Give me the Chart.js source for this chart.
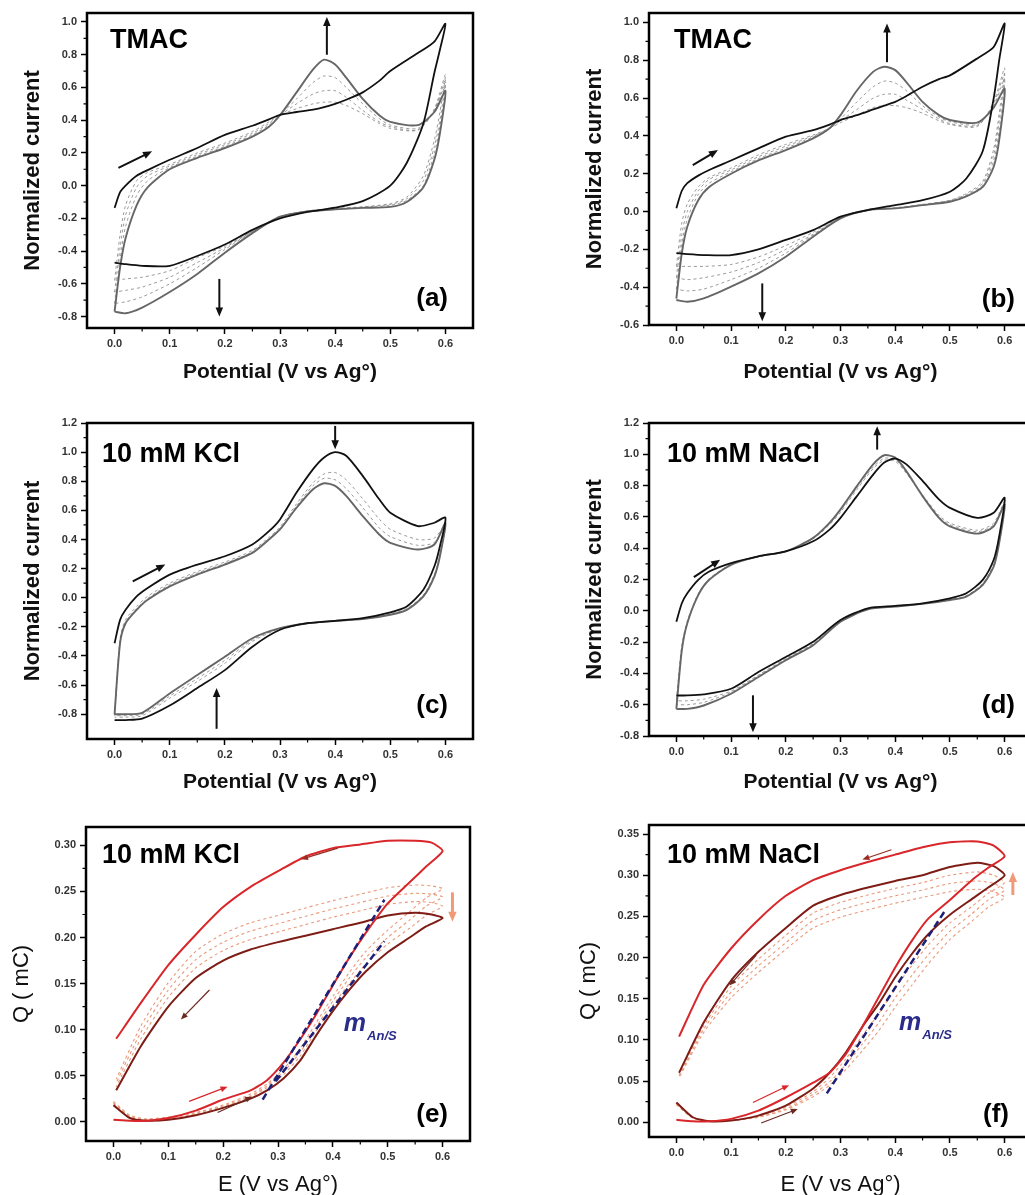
<!DOCTYPE html>
<html>
<head>
<meta charset="utf-8">
<script src="https://cdn.jsdelivr.net/npm/chart.js@4.4.1/dist/chart.umd.min.js"></script>
<style>
  html, body { margin: 0; padding: 0; background: #fff; overflow: hidden; width: 1025px; height: 1195px; }
  canvas { position: absolute; }
</style>
</head>
<body>
<canvas id="pa"></canvas>
<canvas id="pb"></canvas>
<canvas id="pc"></canvas>
<canvas id="pd"></canvas>
<canvas id="pe"></canvas>
<canvas id="pf"></canvas>
<script>
// potential grids for the CV panels (forward scan, then back)
const E_fwd = [0, 0.01, 0.02, 0.04, 0.06, 0.1, 0.15, 0.2, 0.25, 0.28, 0.3, 0.33, 0.36, 0.38, 0.4, 0.42, 0.45, 0.48, 0.5, 0.55, 0.58, 0.6];
const E_rev = [0.59, 0.58, 0.56, 0.53, 0.5, 0.45, 0.4, 0.35, 0.3, 0.25, 0.2, 0.15, 0.1, 0.05, 0.02, 0];

// potential grids for the charge panels
const Q_fwdE = [0, 0.03, 0.06, 0.1, 0.15, 0.2, 0.25, 0.28, 0.31, 0.34, 0.37, 0.4, 0.43, 0.46, 0.5, 0.54, 0.57, 0.6];
const Q_revE = [0.58, 0.55, 0.5, 0.45, 0.4, 0.35, 0.3, 0.25, 0.2, 0.15, 0.1, 0.05, 0.005];

// tick labels
const xMajor = [0, 0.1, 0.2, 0.3, 0.4, 0.5, 0.6];
const yMajorA = [-0.8, -0.6, -0.4, -0.2, 0, 0.2, 0.4, 0.6, 0.8, 1.0];
const yMajorB = [-0.6, -0.4, -0.2, 0, 0.2, 0.4, 0.6, 0.8, 1.0];
const yMajorCD = [-0.8, -0.6, -0.4, -0.2, 0, 0.2, 0.4, 0.6, 0.8, 1.0, 1.2];
const yMajorE = [0, 0.05, 0.1, 0.15, 0.2, 0.25, 0.3];
const yMajorF = [0, 0.05, 0.1, 0.15, 0.2, 0.25, 0.3, 0.35];

// (a) TMAC
const aBlackF = [-0.136, -0.04, 0.0, 0.06, 0.095, 0.158, 0.23, 0.31, 0.366, 0.405, 0.433, 0.45, 0.465, 0.48, 0.5, 0.525, 0.57, 0.64, 0.70, 0.81, 0.88, 0.99];
const aBlackR = [0.83, 0.69, 0.38, 0.14, 0.0, -0.095, -0.135, -0.16, -0.2, -0.27, -0.36, -0.43, -0.49, -0.49, -0.48, -0.47];
const aGrayF = [-0.77, -0.5, -0.32, -0.12, -0.01, 0.1, 0.17, 0.23, 0.3, 0.36, 0.43, 0.57, 0.71, 0.77, 0.74, 0.66, 0.53, 0.43, 0.39, 0.37, 0.45, 0.58];
const aGrayR = [0.32, 0.16, -0.01, -0.1, -0.13, -0.136, -0.145, -0.157, -0.19, -0.29, -0.41, -0.54, -0.65, -0.745, -0.78, -0.77];
const aDash1F = [-0.72, -0.45, -0.25, -0.06, 0.03, 0.11, 0.18, 0.24, 0.31, 0.37, 0.43, 0.53, 0.63, 0.67, 0.66, 0.6, 0.5, 0.41, 0.37, 0.35, 0.46, 0.62];
const aDash1R = [0.36, 0.2, 0.0, -0.09, -0.12, -0.135, -0.145, -0.155, -0.19, -0.28, -0.39, -0.5, -0.6, -0.68, -0.71, -0.72];
const aDash2F = [-0.65, -0.38, -0.18, -0.01, 0.06, 0.12, 0.19, 0.25, 0.32, 0.38, 0.43, 0.5, 0.56, 0.58, 0.58, 0.54, 0.46, 0.39, 0.36, 0.34, 0.46, 0.65];
const aDash2R = [0.4, 0.24, 0.03, -0.08, -0.115, -0.13, -0.14, -0.155, -0.19, -0.28, -0.38, -0.47, -0.56, -0.62, -0.64, -0.65];
const aDash3F = [-0.58, -0.3, -0.12, 0.03, 0.08, 0.13, 0.2, 0.26, 0.33, 0.39, 0.43, 0.47, 0.5, 0.51, 0.51, 0.49, 0.44, 0.38, 0.35, 0.34, 0.47, 0.68];
const aDash3R = [0.45, 0.28, 0.06, -0.07, -0.11, -0.13, -0.14, -0.155, -0.19, -0.28, -0.37, -0.44, -0.52, -0.56, -0.57, -0.58];

// (b) TMAC
const bBlackF = [0.017, 0.11, 0.15, 0.19, 0.22, 0.27, 0.334, 0.396, 0.43, 0.46, 0.484, 0.51, 0.54, 0.56, 0.58, 0.61, 0.66, 0.7, 0.72, 0.81, 0.87, 0.995];
const bBlackR = [0.8, 0.6, 0.32, 0.175, 0.105, 0.06, 0.034, 0.008, -0.027, -0.098, -0.15, -0.2, -0.23, -0.23, -0.225, -0.22];
const bGrayF = [-0.46, -0.22, -0.08, 0.06, 0.13, 0.2, 0.27, 0.325, 0.387, 0.44, 0.51, 0.64, 0.74, 0.766, 0.748, 0.686, 0.58, 0.51, 0.484, 0.47, 0.55, 0.65];
const bGrayR = [0.378, 0.237, 0.13, 0.08, 0.052, 0.034, 0.017, 0.008, -0.036, -0.133, -0.239, -0.327, -0.397, -0.459, -0.477, -0.468];
const bDash1F = [-0.41, -0.17, -0.04, 0.09, 0.15, 0.21, 0.28, 0.335, 0.395, 0.44, 0.49, 0.58, 0.66, 0.69, 0.68, 0.64, 0.56, 0.5, 0.475, 0.46, 0.56, 0.7];
const bDash1R = [0.43, 0.27, 0.14, 0.085, 0.055, 0.034, 0.017, 0.008, -0.034, -0.125, -0.22, -0.3, -0.36, -0.41, -0.42, -0.41];
const bDash2F = [-0.35, -0.12, 0.0, 0.11, 0.17, 0.22, 0.29, 0.345, 0.4, 0.44, 0.48, 0.54, 0.6, 0.62, 0.62, 0.59, 0.54, 0.49, 0.465, 0.455, 0.57, 0.73];
const bDash2R = [0.48, 0.3, 0.15, 0.09, 0.058, 0.036, 0.018, 0.008, -0.032, -0.12, -0.2, -0.27, -0.32, -0.35, -0.36, -0.35];
const bDash3F = [-0.29, -0.06, 0.04, 0.13, 0.18, 0.23, 0.3, 0.355, 0.405, 0.44, 0.47, 0.51, 0.55, 0.56, 0.56, 0.55, 0.52, 0.48, 0.46, 0.45, 0.58, 0.76];
const bDash3R = [0.52, 0.33, 0.16, 0.095, 0.06, 0.038, 0.02, 0.008, -0.03, -0.11, -0.18, -0.24, -0.28, -0.29, -0.29, -0.29];

// (c) 10 mM KCl
const cBlackF = [-0.313, -0.152, -0.083, 0.009, 0.067, 0.159, 0.228, 0.285, 0.366, 0.457, 0.538, 0.722, 0.883, 0.963, 1.0, 0.975, 0.837, 0.676, 0.584, 0.492, 0.515, 0.55];
const cBlackR = [0.354, 0.216, 0.055, -0.06, -0.1, -0.14, -0.159, -0.175, -0.22, -0.336, -0.497, -0.62, -0.74, -0.83, -0.84, -0.84];
const cGrayF = [-0.8, -0.31, -0.175, -0.083, -0.014, 0.078, 0.159, 0.228, 0.308, 0.4, 0.469, 0.618, 0.745, 0.786, 0.768, 0.699, 0.561, 0.434, 0.377, 0.331, 0.366, 0.515];
const cGrayR = [0.285, 0.147, 0.009, -0.083, -0.117, -0.147, -0.159, -0.175, -0.209, -0.278, -0.405, -0.531, -0.657, -0.79, -0.8, -0.8];
const cDash1F = [-0.81, -0.28, -0.15, -0.06, 0.01, 0.1, 0.18, 0.245, 0.325, 0.415, 0.485, 0.645, 0.79, 0.85, 0.86, 0.81, 0.68, 0.54, 0.47, 0.4, 0.41, 0.5];
const cDash1R = [0.3, 0.16, 0.02, -0.075, -0.11, -0.145, -0.159, -0.175, -0.212, -0.3, -0.45, -0.575, -0.69, -0.81, -0.82, -0.82];
const cDash2F = [-0.8, -0.3, -0.165, -0.075, -0.005, 0.09, 0.17, 0.235, 0.315, 0.405, 0.475, 0.63, 0.77, 0.82, 0.81, 0.75, 0.62, 0.48, 0.42, 0.36, 0.38, 0.5];
const cDash2R = [0.29, 0.15, 0.015, -0.08, -0.115, -0.146, -0.159, -0.175, -0.21, -0.29, -0.43, -0.555, -0.675, -0.8, -0.81, -0.81];

// (d) 10 mM NaCl
const dBlackF = [-0.07, 0.048, 0.112, 0.198, 0.251, 0.305, 0.348, 0.38, 0.444, 0.519, 0.594, 0.733, 0.872, 0.947, 0.973, 0.937, 0.83, 0.712, 0.658, 0.594, 0.626, 0.722];
const dBlackR = [0.476, 0.326, 0.198, 0.112, 0.08, 0.048, 0.031, 0.016, -0.059, -0.198, -0.295, -0.391, -0.498, -0.534, -0.541, -0.541];
const dGrayF = [-0.627, -0.252, -0.08, 0.1, 0.198, 0.294, 0.348, 0.38, 0.466, 0.562, 0.648, 0.797, 0.937, 0.994, 0.979, 0.894, 0.733, 0.594, 0.54, 0.493, 0.54, 0.68];
const dGrayR = [0.433, 0.283, 0.166, 0.091, 0.069, 0.044, 0.027, 0.009, -0.07, -0.22, -0.316, -0.423, -0.53, -0.605, -0.627, -0.627];
const dDash1F = [-0.6, -0.24, -0.075, 0.105, 0.2, 0.295, 0.348, 0.38, 0.463, 0.557, 0.64, 0.785, 0.92, 0.975, 0.965, 0.885, 0.735, 0.6, 0.55, 0.505, 0.55, 0.69];
const dDash1R = [0.44, 0.29, 0.17, 0.094, 0.07, 0.045, 0.028, 0.01, -0.066, -0.213, -0.31, -0.415, -0.52, -0.585, -0.6, -0.6];
const dDash2F = [-0.57, -0.22, -0.065, 0.11, 0.205, 0.297, 0.348, 0.38, 0.46, 0.55, 0.63, 0.775, 0.91, 0.962, 0.955, 0.88, 0.74, 0.61, 0.56, 0.515, 0.56, 0.7];
const dDash2R = [0.45, 0.3, 0.175, 0.097, 0.072, 0.046, 0.029, 0.011, -0.064, -0.21, -0.305, -0.41, -0.513, -0.565, -0.575, -0.575];

// (e) charge, 10 mM KCl
const eRedF = [0.002, 0.001, 0.001, 0.004, 0.012, 0.024, 0.034, 0.045, 0.064, 0.089, 0.117, 0.148, 0.178, 0.205, 0.237, 0.26, 0.277, 0.294];
const eRedR = [0.303, 0.305, 0.305, 0.301, 0.297, 0.288, 0.272, 0.255, 0.233, 0.203, 0.17, 0.129, 0.09];
const eDarkF = [0.018, 0.004, 0.001, 0.002, 0.007, 0.015, 0.025, 0.034, 0.047, 0.066, 0.094, 0.12, 0.143, 0.163, 0.184, 0.2, 0.212, 0.221];
const eDarkR = [0.225, 0.227, 0.224, 0.216, 0.209, 0.202, 0.195, 0.187, 0.175, 0.156, 0.125, 0.082, 0.034];
const eDash1F = [0.02, 0.005, 0.001, 0.003, 0.008, 0.016, 0.027, 0.037, 0.051, 0.071, 0.099, 0.126, 0.15, 0.171, 0.193, 0.21, 0.224, 0.234];
const eDash1R = [0.238, 0.239, 0.236, 0.229, 0.222, 0.214, 0.206, 0.198, 0.186, 0.167, 0.135, 0.09, 0.038];
const eDash2F = [0.021, 0.006, 0.002, 0.004, 0.009, 0.017, 0.028, 0.039, 0.054, 0.075, 0.103, 0.131, 0.156, 0.178, 0.2, 0.219, 0.234, 0.244];
const eDash2R = [0.247, 0.248, 0.245, 0.238, 0.231, 0.223, 0.215, 0.207, 0.195, 0.176, 0.143, 0.097, 0.042];
const eDash3F = [0.022, 0.007, 0.003, 0.005, 0.01, 0.018, 0.03, 0.041, 0.057, 0.079, 0.108, 0.136, 0.162, 0.185, 0.208, 0.228, 0.243, 0.253];
const eDash3R = [0.256, 0.257, 0.254, 0.247, 0.24, 0.232, 0.224, 0.216, 0.204, 0.185, 0.151, 0.104, 0.046];
const eFit1E = [0.272, 0.494], eFit1Q = [0.024, 0.241];
const eFit2E = [0.296, 0.494], eFit2Q = [0.044, 0.196];

// (f) charge, 10 mM NaCl
const fRedF = [0.003, 0.001, 0.001, 0.004, 0.014, 0.03, 0.048, 0.06, 0.083, 0.116, 0.152, 0.188, 0.22, 0.247, 0.27, 0.294, 0.309, 0.323];
const fRedR = [0.336, 0.341, 0.34, 0.334, 0.325, 0.316, 0.306, 0.294, 0.275, 0.246, 0.211, 0.167, 0.104];
const fDarkF = [0.024, 0.006, 0.001, 0.002, 0.008, 0.02, 0.041, 0.06, 0.085, 0.116, 0.144, 0.176, 0.204, 0.228, 0.252, 0.271, 0.285, 0.3];
const fDarkR = [0.311, 0.315, 0.31, 0.3, 0.293, 0.285, 0.276, 0.263, 0.236, 0.207, 0.172, 0.121, 0.06];
const fDash1F = [0.023, 0.006, 0.001, 0.002, 0.007, 0.018, 0.037, 0.054, 0.077, 0.105, 0.132, 0.163, 0.19, 0.215, 0.242, 0.262, 0.278, 0.291];
const fDash1R = [0.3, 0.304, 0.3, 0.291, 0.284, 0.276, 0.267, 0.254, 0.227, 0.198, 0.165, 0.117, 0.058];
const fDash2F = [0.022, 0.005, 0.001, 0.002, 0.006, 0.016, 0.034, 0.049, 0.07, 0.095, 0.121, 0.151, 0.178, 0.203, 0.232, 0.253, 0.27, 0.282];
const fDash2R = [0.29, 0.293, 0.29, 0.282, 0.275, 0.267, 0.258, 0.245, 0.218, 0.19, 0.158, 0.113, 0.056];
const fDash3F = [0.021, 0.005, 0.001, 0.002, 0.006, 0.015, 0.031, 0.045, 0.064, 0.087, 0.111, 0.14, 0.166, 0.192, 0.222, 0.244, 0.261, 0.273];
const fDash3R = [0.28, 0.283, 0.28, 0.273, 0.266, 0.258, 0.249, 0.236, 0.21, 0.182, 0.151, 0.109, 0.054];
const fFitE = [0.275, 0.492], fFitQ = [0.035, 0.258];

const FONT = "'Liberation Sans', Arial, sans-serif";

// line styles
const sBlack = { borderColor: '#111', borderWidth: 1.8 };
const sGray = { borderColor: '#666', borderWidth: 1.9 };
const sDash = { borderColor: '#8e8e8e', borderWidth: 0.9, borderDash: [3, 3] };
const sRed = { borderColor: '#d9262a', borderWidth: 2 };
const sDark = { borderColor: '#7e1c16', borderWidth: 2 };
const sOrange = { borderColor: '#e99a7a', borderWidth: 1.1, borderDash: [3, 3] };
const sBlue = { borderColor: '#1d2078', borderWidth: 2.5, borderDash: [7, 4] };

function curve(eF, yF, eR, yR, style, tension) {
  let pts = eF.map((e, i) => ({ x: e, y: yF[i] }));
  if (eR) pts = pts.concat(eR.map((e, i) => ({ x: e, y: yR[i] })));
  return Object.assign({ data: pts, showLine: true, pointRadius: 0, tension: tension }, style);
}

function cvSet(list) {
  // list of [fwd, rev, style]
  return list.map(c => curve(E_fwd, c[0], E_rev, c[1], c[2], 0.25));
}
function qSet(list) {
  return list.map(c => curve(Q_fwdE, c[0], Q_revE, c[1], c[2], 0.2));
}

function drawArrow(ctx, x0, y0, x1, y1, color, w, head) {
  const ang = Math.atan2(y1 - y0, x1 - x0);
  const c = Math.cos(ang), s = Math.sin(ang);
  ctx.strokeStyle = color;
  ctx.fillStyle = color;
  ctx.lineWidth = w;
  ctx.beginPath();
  ctx.moveTo(x0, y0);
  ctx.lineTo(x1 - c * head * 0.7, y1 - s * head * 0.7);
  ctx.stroke();
  ctx.beginPath();
  ctx.moveTo(x1, y1);
  ctx.lineTo(x1 - head * c + head * 0.42 * s, y1 - head * s - head * 0.42 * c);
  ctx.lineTo(x1 - head * c - head * 0.42 * s, y1 - head * s + head * 0.42 * c);
  ctx.closePath();
  ctx.fill();
}

function midpoints(arr) {
  const out = [];
  for (let i = 0; i < arr.length - 1; i++) out.push((arr[i] + arr[i + 1]) / 2);
  return out;
}

// frame, minor ticks, arrows and labels
function decor(d) {
  return {
    id: 'decor',
    afterDatasetsDraw(chart) {
      const { ctx, chartArea: a, scales: { x, y } } = chart;
      ctx.save();
      ctx.strokeStyle = '#000';
      ctx.lineWidth = 1.2;
      ctx.beginPath();
      midpoints(xMajor).forEach(v => {
        const px = x.getPixelForValue(v);
        ctx.moveTo(px, a.bottom); ctx.lineTo(px, a.bottom + 3.5);
      });
      midpoints(d.yMajor).forEach(v => {
        const py = y.getPixelForValue(v);
        ctx.moveTo(a.left, py); ctx.lineTo(a.left - 3.5, py);
      });
      ctx.stroke();
      ctx.lineWidth = 2.5;
      ctx.strokeRect(a.left, a.top, a.right - a.left, a.bottom - a.top);

      d.arrows.forEach(ar => {
        drawArrow(ctx, x.getPixelForValue(ar[0]), y.getPixelForValue(ar[1]),
          x.getPixelForValue(ar[2]), y.getPixelForValue(ar[3]),
          ar[4] || '#111', ar[5] || 2, ar[6] || 9);
      });

      ctx.fillStyle = '#000';
      ctx.textBaseline = 'alphabetic';
      ctx.font = 'bold 27px ' + FONT;
      ctx.textAlign = 'left';
      ctx.fillText(d.name, a.left + d.nameAt[0], a.top + d.nameAt[1]);
      ctx.font = 'bold 26px ' + FONT;
      ctx.textAlign = 'right';
      ctx.fillText(d.tag, a.right - d.tagAt[0], a.bottom - d.tagAt[1]);

      if (d.slope) {
        const px = x.getPixelForValue(d.slope[0]), py = y.getPixelForValue(d.slope[1]);
        ctx.fillStyle = '#2a2c8c';
        ctx.textAlign = 'left';
        ctx.font = 'italic bold 25px ' + FONT;
        ctx.fillText('m', px, py);
        const w = ctx.measureText('m').width;
        ctx.font = 'italic bold 13px ' + FONT;
        ctx.fillText('An/S', px + w + 1, py + 9);
      }
      ctx.restore();
    }
  };
}

function axis(min, max, major, digits, size, horizontal, title, titleFont, titlePad) {
  return {
    type: 'linear',
    min: min,
    max: max,
    afterBuildTicks: s => { s.ticks = major.map(v => ({ value: v })); },
    afterFit: s => { if (horizontal) s.height = size; else s.width = size; },
    grid: { display: true, drawOnChartArea: false, drawTicks: true, tickLength: 6, tickWidth: 1.5, tickColor: '#000' },
    border: { display: false },
    ticks: {
      autoSkip: false, maxRotation: 0, minRotation: 0,
      padding: horizontal ? 3 : 4,
      color: '#333',
      font: { family: FONT, size: 11, weight: 'bold' },
      callback: v => Number(v).toFixed(digits)
    },
    title: { display: true, text: title, color: '#111', font: titleFont, padding: titlePad }
  };
}

function panel(id, box, cfg) {
  const el = document.getElementById(id);
  el.width = box.w;
  el.height = box.h;
  el.style.left = box.x + 'px';
  el.style.top = box.y + 'px';
  new Chart(el, {
    type: 'scatter',
    data: { datasets: cfg.datasets },
    options: {
      responsive: false,
      animation: false,
      events: [],
      layout: { padding: box.pad, autoPadding: false },
      plugins: { legend: { display: false }, tooltip: { enabled: false } },
      scales: {
        x: axis(-0.05, 0.65, xMajor, 1, box.xH, true, cfg.xTitle, cfg.xFont, { top: 0, bottom: 0 }),
        y: axis(cfg.yMin, cfg.yMax, cfg.yMajor, cfg.yDigits, box.yW, false, cfg.yTitle, cfg.yFont, { top: box.yTitlePad, bottom: 0 })
      }
    },
    plugins: [decor(cfg)]
  });
}

const cvX = 'Potential (V vs Ag°)';
const cvY = 'Normalized current';
const cvXFont = { family: FONT, size: 21, weight: 'bold' };
const cvYFont = { family: FONT, size: 22, weight: 'bold' };
const qXFont = { family: FONT, size: 22, weight: 'normal' };
const qYFont = { family: FONT, size: 22, weight: 'normal' };

panel('pa', { x: 0, y: 0, w: 512, h: 385, pad: { left: 0, top: 13, right: 39, bottom: 0 }, yW: 87, xH: 57, yTitlePad: 20 }, {
  datasets: cvSet([[aBlackF, aBlackR, sBlack], [aGrayF, aGrayR, sGray],
    [aDash1F, aDash1R, sDash], [aDash2F, aDash2R, sDash], [aDash3F, aDash3R, sDash]]),
  yMin: -0.87, yMax: 1.055, yMajor: yMajorA, yDigits: 1,
  xTitle: cvX, yTitle: cvY, xFont: cvXFont, yFont: cvYFont,
  name: 'TMAC', nameAt: [23, 35], tag: '(a)', tagAt: [25, 22],
  arrows: [[0.385, 0.8, 0.385, 1.03], [0.19, -0.57, 0.19, -0.8], [0.007, 0.108, 0.068, 0.21]]
});

panel('pb', { x: 512, y: 0, w: 530, h: 385, pad: { left: 50, top: 13, right: 10, bottom: 0 }, yW: 87, xH: 60, yTitlePad: 20 }, {
  datasets: cvSet([[bBlackF, bBlackR, sBlack], [bGrayF, bGrayR, sGray],
    [bDash1F, bDash1R, sDash], [bDash2F, bDash2R, sDash], [bDash3F, bDash3R, sDash]]),
  yMin: -0.6, yMax: 1.05, yMajor: yMajorB, yDigits: 1,
  xTitle: cvX, yTitle: cvY, xFont: cvXFont, yFont: cvYFont,
  name: 'TMAC', nameAt: [25, 35], tag: '(b)', tagAt: [17, 18],
  arrows: [[0.385, 0.79, 0.385, 0.995], [0.157, -0.38, 0.157, -0.58], [0.03, 0.246, 0.076, 0.325]]
});

panel('pc', { x: 0, y: 390, w: 512, h: 405, pad: { left: 0, top: 33, right: 39, bottom: 0 }, yW: 87, xH: 56, yTitlePad: 20 }, {
  datasets: cvSet([[cBlackF, cBlackR, sBlack], [cGrayF, cGrayR, sGray],
    [cDash1F, cDash1R, sDash], [cDash2F, cDash2R, sDash]]),
  yMin: -0.97, yMax: 1.2, yMajor: yMajorCD, yDigits: 1,
  xTitle: cvX, yTitle: cvY, xFont: cvXFont, yFont: cvYFont,
  name: '10 mM KCl', nameAt: [15, 39], tag: '(c)', tagAt: [25, 26],
  arrows: [[0.4, 1.18, 0.4, 1.02], [0.185, -0.9, 0.185, -0.62], [0.033, 0.113, 0.092, 0.228]]
});

panel('pd', { x: 512, y: 390, w: 530, h: 405, pad: { left: 50, top: 33, right: 10, bottom: 0 }, yW: 87, xH: 59, yTitlePad: 20 }, {
  datasets: cvSet([[dBlackF, dBlackR, sBlack], [dGrayF, dGrayR, sGray],
    [dDash1F, dDash1R, sDash], [dDash2F, dDash2R, sDash]]),
  yMin: -0.8, yMax: 1.2, yMajor: yMajorCD, yDigits: 1,
  xTitle: cvX, yTitle: cvY, xFont: cvXFont, yFont: cvYFont,
  name: '10 mM NaCl', nameAt: [18, 39], tag: '(d)', tagAt: [17, 23],
  arrows: [[0.367, 1.03, 0.367, 1.18], [0.14, -0.54, 0.14, -0.776], [0.032, 0.215, 0.08, 0.326]]
});

panel('pe', { x: 0, y: 790, w: 512, h: 408, pad: { left: 0, top: 37, right: 42, bottom: 0 }, yW: 86, xH: 57, yTitlePad: 9 }, {
  datasets: [curve(eFit1E, eFit1Q, null, null, sBlue, 0), curve(eFit2E, eFit2Q, null, null, sBlue, 0)].concat(
    qSet([[eRedF, eRedR, sRed], [eDarkF, eDarkR, sDark],
      [eDash1F, eDash1R, sOrange], [eDash2F, eDash2R, sOrange], [eDash3F, eDash3R, sOrange]])),
  yMin: -0.021, yMax: 0.32, yMajor: yMajorE, yDigits: 2,
  xTitle: 'E (V vs Ag°)', yTitle: 'Q ( mC)', xFont: qXFont, yFont: qYFont,
  name: '10 mM KCl', nameAt: [16, 36], tag: '(e)', tagAt: [22, 19],
  slope: [0.42, 0.098],
  arrows: [[0.409, 0.297, 0.342, 0.285, '#9a2a22', 1.2, 7], [0.175, 0.143, 0.123, 0.111, '#6a2a22', 1.2, 7],
    [0.138, 0.022, 0.208, 0.038, '#d9262a', 1.2, 7], [0.19, 0.01, 0.253, 0.027, '#6a2a22', 1.2, 7],
    [0.618, 0.249, 0.618, 0.217, '#f09a78', 3, 10]]
});

panel('pf', { x: 512, y: 790, w: 530, h: 408, pad: { left: 51, top: 35, right: 10, bottom: 0 }, yW: 86, xH: 61, yTitlePad: 13 }, {
  datasets: [curve(fFitE, fFitQ, null, null, sBlue, 0)].concat(
    qSet([[fRedF, fRedR, sRed], [fDarkF, fDarkR, sDark],
      [fDash1F, fDash1R, sOrange], [fDash2F, fDash2R, sOrange], [fDash3F, fDash3R, sOrange]])),
  yMin: -0.018, yMax: 0.361, yMajor: yMajorF, yDigits: 2,
  xTitle: 'E (V vs Ag°)', yTitle: 'Q ( mC)', xFont: qXFont, yFont: qYFont,
  name: '10 mM NaCl', nameAt: [18, 38], tag: '(f)', tagAt: [23, 15],
  slope: [0.407, 0.112],
  arrows: [[0.393, 0.331, 0.34, 0.319, '#9a2a22', 1.2, 7], [0.146, 0.203, 0.097, 0.166, '#6a2a22', 1.2, 7],
    [0.14, 0.024, 0.206, 0.045, '#d9262a', 1.2, 7], [0.155, -0.001, 0.222, 0.016, '#6a2a22', 1.2, 7],
    [0.615, 0.276, 0.615, 0.304, '#f09a78', 3, 10]]
});
</script>
</body>
</html>
